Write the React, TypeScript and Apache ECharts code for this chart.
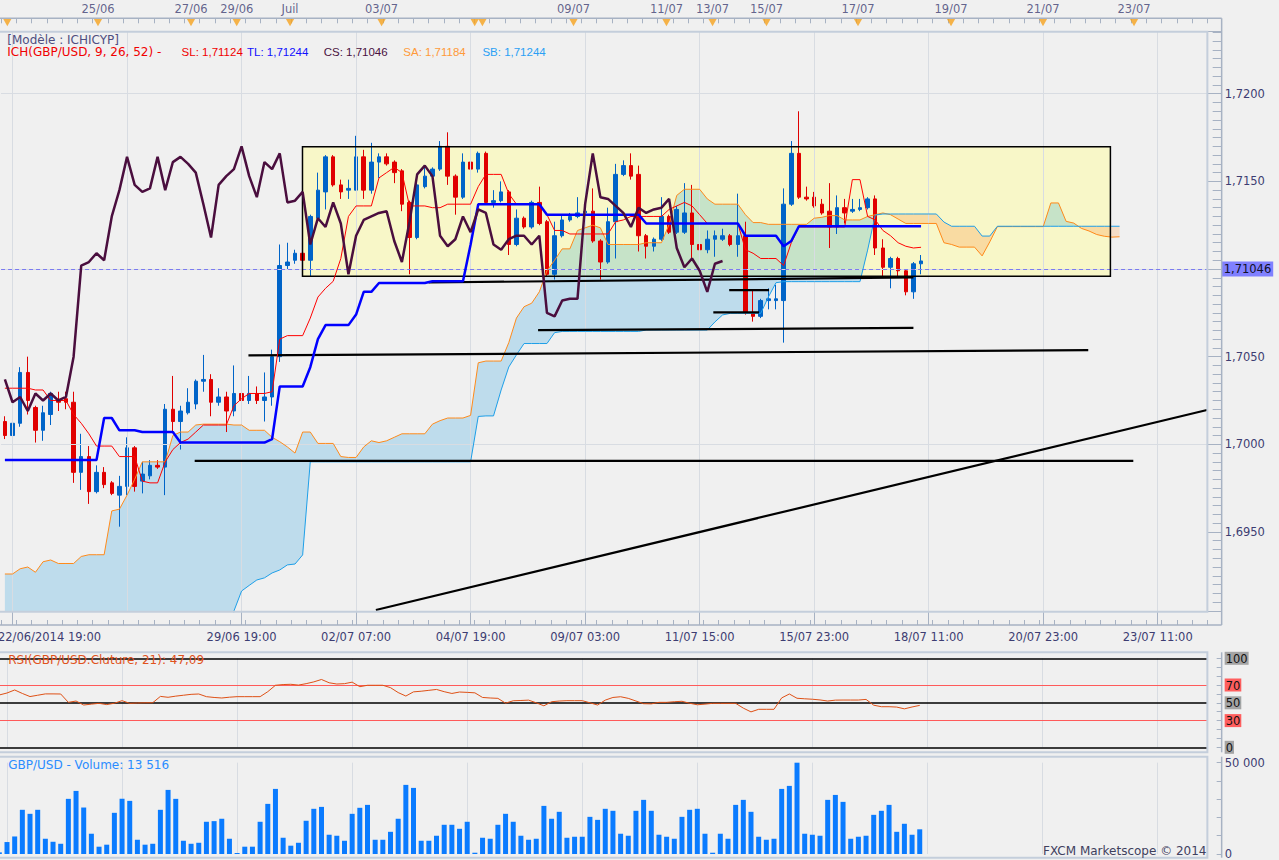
import React, { useEffect, useRef } from 'react';
import * as echarts from 'echarts';

// ---------- data ----------
const SLOTS = 158; // candle slots across the price pane (index 0 = partially hidden first candle)

const timeTicks = [1, 16, 31, 46, 61, 76, 91, 106, 121, 136, 151];
const timeLabels = ['22/06/2014 19:00', '', '29/06 19:00', '02/07 07:00', '04/07 19:00', '09/07 03:00', '11/07 15:00', '15/07 23:00', '18/07 11:00', '20/07 23:00', '23/07 11:00'];
const priceLevels = [1.695, 1.7, 1.705, 1.71, 1.715, 1.72];

const eventMarks = [1.04, 12.86, 24.99, 30.95, 37.9, 49.84, 61.98, 62.98, 74.86, 86.98, 92.99, 100.02, 111.95, 124.08, 136.07, 147.94];
const eventLabels = ['', '25/06', '27/06', '29/06', 'Juil', '03/07', '', '', '09/07', '11/07', '13/07', '15/07', '17/07', '19/07', '21/07', '23/07'];

// [open, close, low, high]
const candles = [
  [1.7013, 1.7005, 1.7003, 1.7016], [1.7005, 1.7012, 1.7004, 1.7022], [1.7012, 1.7041, 1.7010, 1.7044], [1.7041, 1.7025, 1.7017, 1.7050],
  [1.7021, 1.7008, 1.7001, 1.7022], [1.7008, 1.7018, 1.7002, 1.7022], [1.7017, 1.7029, 1.7011, 1.7030], [1.7025, 1.7024, 1.7019, 1.7030],
  [1.7026, 1.7024, 1.7020, 1.7030], [1.7024, 1.6984, 1.6978, 1.7030], [1.6984, 1.6993, 1.6974, 1.7006], [1.6993, 1.6973, 1.6966, 1.6999],
  [1.6973, 1.6984, 1.6972, 1.6988], [1.6984, 1.6977, 1.6975, 1.6987], [1.6978, 1.6972, 1.6971, 1.6979], [1.6971, 1.6976, 1.6953, 1.6982],
  [1.6976, 1.6998, 1.6971, 1.7004], [1.6998, 1.6976, 1.6973, 1.6999], [1.6979, 1.6983, 1.6972, 1.6990], [1.6982, 1.6988, 1.6980, 1.6991],
  [1.6988, 1.6987, 1.6986, 1.6991], [1.6987, 1.7020, 1.6971, 1.7023], [1.7020, 1.7013, 1.7007, 1.7039], [1.7013, 1.7019, 1.6997, 1.7022],
  [1.7018, 1.7024, 1.7017, 1.7032], [1.7023, 1.7036, 1.7020, 1.7037], [1.7036, 1.7037, 1.7030, 1.7051], [1.7037, 1.7024, 1.7016, 1.7040],
  [1.7024, 1.7027, 1.7022, 1.7032], [1.7027, 1.7019, 1.7007, 1.7030], [1.7019, 1.7029, 1.7016, 1.7045], [1.7029, 1.7025, 1.7024, 1.7030],
  [1.7025, 1.7029, 1.7023, 1.7039], [1.7029, 1.7025, 1.7023, 1.7033], [1.7025, 1.7027, 1.7013, 1.7041], [1.7027, 1.7050, 1.7022, 1.7054],
  [1.7050, 1.7102, 1.7047, 1.7114], [1.7102, 1.7104, 1.7100, 1.7115], [1.7105, 1.7109, 1.7103, 1.7111], [1.7109, 1.7105, 1.7104, 1.7111],
  [1.7105, 1.7130, 1.7096, 1.7131], [1.7129, 1.7145, 1.7128, 1.7155], [1.7144, 1.7164, 1.7134, 1.7165], [1.7164, 1.7148, 1.7147, 1.7165],
  [1.7148, 1.7144, 1.7140, 1.7151], [1.7145, 1.7146, 1.7140, 1.7151], [1.7145, 1.7164, 1.7145, 1.7176], [1.7164, 1.7145, 1.7140, 1.7168],
  [1.7145, 1.7161, 1.7143, 1.7172], [1.7161, 1.7164, 1.7152, 1.7166], [1.7164, 1.7160, 1.7159, 1.7166], [1.7161, 1.7155, 1.7149, 1.7162],
  [1.7156, 1.7137, 1.7133, 1.7157], [1.7138, 1.7118, 1.7097, 1.7139], [1.7118, 1.7148, 1.7117, 1.7154], [1.7147, 1.7153, 1.7146, 1.7158],
  [1.7153, 1.7157, 1.7152, 1.7158], [1.7157, 1.7170, 1.7156, 1.7173], [1.7170, 1.7153, 1.7148, 1.7178], [1.7153, 1.7141, 1.7131, 1.7154],
  [1.7141, 1.7161, 1.7140, 1.7166], [1.7161, 1.7157, 1.7155, 1.7166], [1.7157, 1.7166, 1.7155, 1.7167], [1.7166, 1.7138, 1.7137, 1.7167],
  [1.7138, 1.7139, 1.7135, 1.7145], [1.7139, 1.7144, 1.7138, 1.7150], [1.7144, 1.7114, 1.7108, 1.7145], [1.7114, 1.7129, 1.7113, 1.7134],
  [1.7129, 1.7124, 1.7123, 1.7130], [1.7124, 1.7138, 1.7123, 1.7139], [1.7138, 1.7126, 1.7125, 1.7147], [1.7127, 1.7097, 1.7096, 1.7128],
  [1.7097, 1.7119, 1.7094, 1.7127], [1.7119, 1.7128, 1.7118, 1.7131], [1.7128, 1.7130, 1.7127, 1.7132], [1.7130, 1.7132, 1.7129, 1.7141],
  [1.7132, 1.7133, 1.7131, 1.7134], [1.7133, 1.7116, 1.7115, 1.7146], [1.7116, 1.7104, 1.7094, 1.7117], [1.7104, 1.7127, 1.7103, 1.7135],
  [1.7127, 1.7154, 1.7106, 1.7160], [1.7154, 1.7159, 1.7153, 1.7162], [1.7159, 1.7153, 1.7151, 1.7166], [1.7154, 1.7119, 1.7110, 1.7159],
  [1.7119, 1.7113, 1.7106, 1.7120], [1.7113, 1.7117, 1.7110, 1.7118], [1.7117, 1.7130, 1.7116, 1.7141], [1.7130, 1.7121, 1.7120, 1.7131],
  [1.7121, 1.7134, 1.7120, 1.7136], [1.7121, 1.7132, 1.7120, 1.7149], [1.7132, 1.7114, 1.7106, 1.7148], [1.7114, 1.7111, 1.7104, 1.7120],
  [1.7111, 1.7117, 1.7109, 1.7122], [1.7117, 1.7119, 1.7107, 1.7122], [1.7117, 1.7119, 1.7116, 1.7123], [1.7119, 1.7114, 1.7113, 1.7120],
  [1.7114, 1.7119, 1.7107, 1.7143], [1.7119, 1.7075, 1.7074, 1.7127], [1.7075, 1.7073, 1.7070, 1.7088], [1.7073, 1.7082, 1.7072, 1.7083],
  [1.7082, 1.7083, 1.7077, 1.7089], [1.7082, 1.7083, 1.7077, 1.7091], [1.7082, 1.7137, 1.7058, 1.7146], [1.7137, 1.7166, 1.7136, 1.7173],
  [1.7166, 1.7141, 1.7140, 1.7190], [1.7141, 1.7140, 1.7139, 1.7147], [1.7141, 1.7136, 1.7135, 1.7144], [1.7137, 1.7132, 1.7131, 1.7140],
  [1.7133, 1.7124, 1.7112, 1.7149], [1.7124, 1.7135, 1.7120, 1.7142], [1.7135, 1.7132, 1.7126, 1.7140], [1.7133, 1.7134, 1.7132, 1.7140],
  [1.7134, 1.7135, 1.7133, 1.7140], [1.7135, 1.7140, 1.7134, 1.7141], [1.7140, 1.7112, 1.7108, 1.7142], [1.7112, 1.7101, 1.7096, 1.7117],
  [1.7101, 1.7106, 1.7089, 1.7107], [1.7106, 1.7099, 1.7096, 1.7107], [1.7099, 1.7087, 1.7085, 1.7100], [1.7087, 1.7103, 1.7083, 1.7104],
  [1.7103, 1.71046, 1.7097, 1.7108],
];

const tenkan = [
  1.7032, 1.7032, 1.7032, 1.7032, 1.7031, 1.7031, 1.7025, 1.7025, 1.7025, 1.7017,
  1.7012, 1.7006, 1.6999, 1.6999, 1.6999, 1.6993, 1.6993, 1.6993, 1.6979, 1.6978,
  1.6978, 1.6990, 1.6997, 1.7001, 1.7003, 1.7007, 1.7011, 1.7011, 1.7011, 1.7011,
  1.7022, 1.7026, 1.7029, 1.7029, 1.7029, 1.7030, 1.7060, 1.7062, 1.7062, 1.7062,
  1.7072, 1.7084, 1.7089, 1.7093, 1.7106, 1.7130, 1.7136, 1.7136, 1.7136, 1.7152,
  1.7155, 1.7158, 1.7155, 1.7136, 1.7136, 1.7136, 1.7135, 1.7135, 1.7137, 1.7137,
  1.7137, 1.7137, 1.7147, 1.7154, 1.7154, 1.7154, 1.7143, 1.7137, 1.7137, 1.7137,
  1.7137, 1.7131, 1.7122, 1.7122, 1.7120, 1.7120, 1.7120, 1.7120, 1.7120, 1.7120,
  1.7127, 1.7128, 1.7130, 1.7130, 1.7130, 1.7130, 1.7130, 1.7134, 1.7136, 1.7138,
  1.7136, 1.7131, 1.7126, 1.7126, 1.7126, 1.7126, 1.7126, 1.7111, 1.7109, 1.7106,
  1.7106, 1.7106, 1.7102, 1.7115, 1.7124, 1.7124, 1.7124, 1.7124, 1.7124, 1.7124,
  1.7124, 1.7151, 1.7151, 1.7130, 1.7128, 1.7122, 1.7119, 1.7115, 1.7113, 1.7112,
  1.71124,
];

const kijun = [
  1.6991, 1.6991, 1.6991, 1.6991, 1.6991, 1.6991, 1.6991, 1.6991, 1.6991, 1.6991,
  1.6991, 1.6991, 1.6991, 1.7015, 1.7015, 1.7008, 1.7008, 1.7008, 1.7007, 1.7007,
  1.7007, 1.7007, 1.7007, 1.7001, 1.7001, 1.7001, 1.7001, 1.7001, 1.7001, 1.7001,
  1.7001, 1.7001, 1.7001, 1.7001, 1.7001, 1.7003, 1.7033, 1.7033, 1.7033, 1.7033,
  1.7044, 1.7060, 1.7068, 1.7068, 1.7068, 1.7068, 1.7074, 1.7087, 1.7087, 1.7092,
  1.7092, 1.7092, 1.7092, 1.7092, 1.7092, 1.7092, 1.7093, 1.7093, 1.7093, 1.7093,
  1.7093, 1.7114, 1.7137, 1.7137, 1.7137, 1.7137, 1.7137, 1.7137, 1.7137, 1.7137,
  1.7137, 1.7131, 1.7131, 1.7131, 1.7131, 1.7131, 1.7131, 1.7131, 1.7131, 1.7131,
  1.7131, 1.7131, 1.7131, 1.7131, 1.7126, 1.7126, 1.7126, 1.7126, 1.7126, 1.7126,
  1.7126, 1.7126, 1.7126, 1.7126, 1.7126, 1.7126, 1.7126, 1.7119, 1.7119, 1.7119,
  1.7119, 1.7119, 1.7113, 1.7116, 1.71244, 1.71244, 1.71244, 1.71244, 1.71244, 1.71244,
  1.71244, 1.71244, 1.71244, 1.71244, 1.71244, 1.71244, 1.71244, 1.71244, 1.71244, 1.71244,
  1.71244,
];

const senkouA = [
  1.6926, 1.6926, 1.6929, 1.6930, 1.6927, 1.6933, 1.6934, 1.6932, 1.6932, 1.6932,
  1.6936, 1.6937, 1.6937, 1.6937, 1.6962, 1.6963, 1.6971, 1.6980, 1.6990, 1.6990,
  1.6990, 1.6990, 1.7005, 1.7007, 1.7007, 1.7011, 1.70115, 1.70115, 1.70115, 1.70115,
  1.7011, 1.7011, 1.7008, 1.7008, 1.7008, 1.7004, 1.70015, 1.69985, 1.6995, 1.7007,
  1.7007, 1.70005, 1.70005, 1.70005, 1.6993, 1.69925, 1.69925, 1.69985, 1.7002, 1.7001,
  1.7002, 1.7004, 1.7006, 1.7006, 1.7006, 1.7006, 1.70115, 1.70135, 1.7015, 1.7015,
  1.7015, 1.70165, 1.70465, 1.70475, 1.70475, 1.70475, 1.7058, 1.7072, 1.70785, 1.70805,
  1.7087, 1.7099, 1.7105, 1.71115, 1.71115, 1.7122, 1.71235, 1.7125, 1.71235, 1.7114,
  1.7114, 1.7114, 1.7114, 1.7114, 1.7115, 1.7115, 1.7115, 1.71255, 1.7142, 1.71455,
  1.71455, 1.71455, 1.7140, 1.7137, 1.7137, 1.7137, 1.7137, 1.7131, 1.71265, 1.71265,
  1.71255, 1.71255, 1.71255, 1.71255, 1.71255, 1.71255, 1.7129, 1.71295, 1.71305, 1.71305,
  1.7128, 1.7128, 1.7128, 1.7130, 1.7131, 1.7132, 1.7131, 1.71285, 1.7126, 1.7126,
  1.7126, 1.7126, 1.7126, 1.7115, 1.7114, 1.71125, 1.71125, 1.71125, 1.71075, 1.71155,
  1.71242, 1.71242, 1.71242, 1.71242, 1.71242, 1.71242, 1.71242, 1.71377, 1.71377, 1.71272,
  1.71262, 1.71232, 1.71217, 1.71197, 1.71187, 1.71182, 1.71184,
];

const senkouB = [
  1.6880, 1.6880, 1.6880, 1.6880, 1.6880, 1.6880, 1.6880, 1.6880, 1.6880, 1.6880,
  1.6880, 1.6880, 1.6880, 1.6880, 1.6880, 1.6880, 1.6880, 1.6880, 1.6880, 1.6880,
  1.6880, 1.6880, 1.6880, 1.6880, 1.6880, 1.6880, 1.6880, 1.6880, 1.6880, 1.6880,
  1.69049, 1.69163, 1.69195, 1.69226, 1.69238, 1.69266, 1.69283, 1.69312, 1.69317, 1.69369,
  1.6990, 1.6990, 1.6990, 1.6990, 1.6990, 1.6990, 1.6990, 1.6990, 1.6990, 1.6990,
  1.6990, 1.6990, 1.6990, 1.6990, 1.6990, 1.6990, 1.6990, 1.6990, 1.6990, 1.6990,
  1.6990, 1.6990, 1.70159, 1.70162, 1.70162, 1.70310, 1.70441, 1.70510, 1.70575, 1.70575,
  1.70575, 1.70575, 1.70637, 1.70644, 1.70644, 1.70644, 1.70644, 1.70644, 1.70644, 1.70644,
  1.70644, 1.70644, 1.70644, 1.70644, 1.70652, 1.70652, 1.70652, 1.70652, 1.70652, 1.70652,
  1.70652, 1.70652, 1.70652, 1.70698, 1.70738, 1.70747, 1.70747, 1.70747, 1.70747, 1.70747,
  1.70840, 1.70922, 1.70928, 1.70928, 1.70928, 1.70928, 1.70928, 1.70928, 1.70928, 1.70928,
  1.70928, 1.70928, 1.70928, 1.71108, 1.71308, 1.71314, 1.71314, 1.71314, 1.71314, 1.71314,
  1.71314, 1.71314, 1.71314, 1.71268, 1.71244, 1.71244, 1.71244, 1.71244, 1.71188, 1.71188,
  1.71244, 1.71244, 1.71244, 1.71244, 1.71244, 1.71244, 1.71244, 1.71244, 1.71244, 1.71244,
  1.71244, 1.71244, 1.71244, 1.71244, 1.71244, 1.71244, 1.71244,
];

const rsi = [
  58.8, 61, 64.4, 60.5, 57, 58.5, 60, 60, 59.9, 50.5,
  52, 47.5, 48.5, 49.4, 48, 49.5, 52.4, 49.4, 49.8, 50,
  50.1, 57.2, 56.2, 57.5, 58.5, 59.5, 59.9, 56.9, 56, 55.4,
  56.3, 56.9, 56.9, 56.9, 56.9, 62.5, 69.7, 70.5, 70.8, 69.9,
  71.5, 73.5, 76.2, 72.5, 71.1, 71.5, 73.2, 68.1, 69.7, 69.7,
  69.7, 67, 61.5, 57.6, 62.3, 63, 64, 65, 62.5, 60.5,
  62.1, 61.7, 61.2, 56, 55.4, 55, 49.6, 52.3, 52.6, 53,
  50, 46.6, 51.2, 52, 52.4, 52.4, 52.4, 50, 47.5, 53,
  56, 56.8, 55, 52, 49, 48.8, 50.5, 50.5, 51.2, 51.7,
  49.5, 47.8, 48.5, 49.4, 49.4, 49.4, 49.4, 44, 39.8, 42.7,
  42.7, 42.7, 55.5, 59.9, 55.1, 54.5, 54, 53.2, 52, 53,
  53.1, 53.1, 53.1, 53.8, 47.3, 45.6, 45.6, 45.2, 43.2, 45.3,
  47.09,
];
const rsiLevels = [100, 70, 50, 30, 0];
const rsiLevelColors = ['#000000', '#ff5a5a', '#000000', '#ff5a5a', '#000000'];

const volume = [
  900, 6550, 9600, 24200, 22000, 24200, 8350, 6700, 5600, 30200,
  34550, 25450, 11100, 4000, 5100, 22550, 30200, 29100, 7800, 5100,
  5600, 24200, 35100, 30200, 7250, 5600, 6150, 17650, 18000, 19300,
  8350, 550, 4000, 4000, 17650, 27450, 35650, 8900, 4550, 6150,
  18200, 24750, 25800, 10550, 10000, 7250, 22000, 25300, 26900, 7800,
  7800, 12150, 19300, 37850, 36200, 7250, 7250, 10000, 16000, 16000,
  13800, 17650, 700, 8900, 8350, 16000, 22000, 17650, 10000, 7800,
  8350, 26350, 19300, 23100, 8900, 9450, 9450, 20350, 18700, 24750,
  23650, 11100, 10000, 23650, 29650, 23650, 10550, 9450, 8350, 20350,
  24200, 24750, 11100, 700, 11100, 8350, 26900, 29650, 23100, 9450,
  7800, 8350, 35650, 37300, 50000, 11100, 10550, 10000, 29650, 32350,
  28550, 8350, 9450, 10000, 21450, 23650, 26900, 12150, 16550, 10550,
  13516,
];

// [slot from, price from, slot to, price to]
const rangeBox = [38.98, 1.70959, 144.8, 1.71697];
const trendLines = [
  [55.5, 1.70923, 119.0, 1.70952],
  [69.84, 1.70652, 119.0, 1.70664],
  [31.9, 1.70507, 141.9, 1.70537],
  [24.86, 1.69905, 147.8, 1.69905],
  [94.87, 1.70880, 100.09, 1.70880],
  [92.79, 1.70753, 98.78, 1.70753],
  [48.59, 1.69055, 157.45, 1.70196],
];

// ---------- helpers ----------
const fmt = (v: number, d: number) => v.toFixed(d).replace('.', ',');
const fmtThousands = (v: number) => String(v).replace(/\B(?=(\d{3})+(?!\d))/g, ' ');

const FONT = 'DejaVu Sans';
const AXIS_COLOR = '#a7b2c3';
const LABEL_COLOR = '#3d3d72';
const PANE_BORDER = '#c4cedb';
const GRID_LINE = '#d8dce2';
const SLOT_W = 7.67;
const OX = 5;            // chart container starts 5px left of the page
const CW = 1279 + OX;    // container width
const LEFT = 0.5;        // grid left inside the container (page x = -4.5)
const RIGHT = CW - (LEFT + SLOTS * SLOT_W);
const PLOT_R = CW - RIGHT;       // right edge of plots (container coords)
const AXIS_X = PLOT_R + 14.3;    // right axis line (container coords)

// cloud colours: outside / inside the highlighted range box
const CLOUD_UP = '#bedcec';
const CLOUD_DN = '#f5dcc6';
const CLOUD_UP_IN = '#c6e3c8';
const CLOUD_DN_IN = '#f9dba2';
const BOX_FILL = '#f8f7c8';

// Sutherland-Hodgman clip of a polygon against an axis-aligned rectangle
function clipToRect(points: number[][], x0: number, y0: number, x1: number, y1: number) {
  let out = points;
  const step = (inside: (p: number[]) => boolean, cut: (a: number[], b: number[]) => number[]) => {
    const res: number[][] = [];
    for (let i = 0; i < out.length; i++) {
      const cur = out[i];
      const prev = out[(i + out.length - 1) % out.length];
      const ci = inside(cur);
      const pi = inside(prev);
      if (ci) {
        if (!pi) res.push(cut(prev, cur));
        res.push(cur);
      } else if (pi) res.push(cut(prev, cur));
    }
    out = res;
  };
  const cx = (x: number) => (a: number[], b: number[]) => [x, a[1] + ((x - a[0]) / (b[0] - a[0])) * (b[1] - a[1])];
  const cy = (y: number) => (a: number[], b: number[]) => [a[0] + ((y - a[1]) / (b[1] - a[1])) * (b[0] - a[0]), y];
  step((p) => p[0] >= x0, cx(x0));
  if (out.length) step((p) => p[0] <= x1, cx(x1));
  if (out.length) step((p) => p[1] >= y0, cy(y0));
  if (out.length) step((p) => p[1] <= y1, cy(y1));
  return out;
}

function buildOption() {
  const last = candles.length - 1;
  const lastClose = candles[last][1];
  const categories = Array.from({ length: SLOTS }, (_, i) => {
    const k = timeTicks.indexOf(i);
    return k >= 0 ? timeLabels[k] : '';
  });
  const chikou = candles.slice(26).map((c, i) => [i, c[1]]);
  const pairs = (arr: number[]) => arr.map((v, i) => [i, v]);

  const hiddenX = (gridIndex: number) => ({ type: 'value', gridIndex, min: -0.5, max: SLOTS - 0.5, show: false, axisLine: { onZero: false } });
  const grid = (top: number, height: number) => ({ left: LEFT, right: RIGHT, top, height });

  const gridLines = (xAxisIndex: number, yAxisIndex: number, levels: number[] = []) => ({
    type: 'line', xAxisIndex, yAxisIndex, data: [], z: 3, silent: true,
    markLine: {
      silent: true, symbol: 'none', animation: false, label: { show: false },
      lineStyle: { color: GRID_LINE, width: 1, type: 'solid' },
      data: [...timeTicks.map((t) => ({ xAxis: t })), ...levels.map((v) => ({ yAxis: v }))],
    },
  });

  const cloudRender = (params: any, api: any) => {
    const polys: { pts: number[][]; up: boolean }[] = [];
    let sign = 0;
    let up: number[][] = [];
    let lo: number[][] = [];
    const flush = () => {
      if (up.length > 1) polys.push({ pts: up.concat(lo.slice().reverse()), up: sign > 0 });
    };
    for (let i = 0; i < senkouA.length; i++) {
      const a = api.coord([i, senkouA[i]]);
      const b = api.coord([i, senkouB[i]]);
      const s = senkouA[i] >= senkouB[i] ? 1 : -1;
      if (i === 0) { sign = s; up = [a]; lo = [b]; continue; }
      if (s !== sign) {
        const d0 = senkouA[i - 1] - senkouB[i - 1];
        const d1 = senkouA[i] - senkouB[i];
        const t = d0 / (d0 - d1);
        const c = api.coord([i - 1 + t, senkouA[i - 1] + t * (senkouA[i] - senkouA[i - 1])]);
        up.push(c); lo.push(c);
        flush();
        sign = s; up = [c, a]; lo = [c, b];
      } else { up.push(a); lo.push(b); }
    }
    flush();
    const b0 = api.coord([rangeBox[0], rangeBox[3]]);
    const b1 = api.coord([rangeBox[2], rangeBox[1]]);
    const children: any[] = [];
    polys.forEach((p) => {
      children.push({ type: 'polygon', shape: { points: p.pts }, style: { fill: p.up ? CLOUD_UP : CLOUD_DN } });
    });
    polys.forEach((p) => {
      const inner = clipToRect(p.pts, b0[0], b0[1], b1[0], b1[1]);
      if (inner.length > 2) {
        children.push({ type: 'polygon', shape: { points: inner }, style: { fill: p.up ? CLOUD_UP_IN : CLOUD_DN_IN } });
      }
    });
    return { type: 'group', children };
  };

  const textEl = (text: string, left: number, top: number, fill: string, size = 12, family = FONT) => ({
    type: 'text', left: left + OX, top, z: 30, silent: true,
    style: { text, fill, fontSize: size, fontFamily: family },
  });
  const lineEl = (x1: number, y1: number, x2: number, y2: number, stroke = AXIS_COLOR, lw = 1.5) => ({
    type: 'line', z: 25, silent: true, shape: { x1, y1, x2, y2 }, style: { stroke, lineWidth: lw },
  });
  const paneEl = (y: number, h: number) => ({
    type: 'rect', z: 25, silent: true, shape: { x: OX - 1, y, width: PLOT_R - OX + 1, height: h },
    style: { fill: 'transparent', stroke: PANE_BORDER, lineWidth: 2 },
  });

  const rsiRich = {
    g: { backgroundColor: '#a4a4a4', color: '#111', padding: [1, 1, 0, 1], fontSize: 11.5, fontFamily: FONT },
    r: { backgroundColor: '#ff5e5e', color: '#111', padding: [1, 1, 0, 1], fontSize: 11.5, fontFamily: FONT },
  };

  return {
    animation: false,
    backgroundColor: '#f0f0f0',
    textStyle: { fontFamily: FONT },
    grid: [grid(31.7, 580), grid(0, 31.7), grid(658.3, 89), grid(762.7, 91.6)],
    xAxis: [
      {
        type: 'category', gridIndex: 0, data: categories, position: 'bottom', offset: 13.3,
        axisLine: { show: false, onZero: false },
        axisTick: { show: true, inside: true, length: 13.3, alignWithLabel: true, interval: (i: number, v: string) => v !== '', lineStyle: { color: AXIS_COLOR } },
        axisLabel: {
          show: true, interval: (i: number, v: string) => v !== '', margin: 6, color: LABEL_COLOR, fontSize: 11.5, fontFamily: FONT,
          formatter: (v: string, i: number) => (i === timeTicks[0] ? `{first|${v}}` : v),
          rich: { first: { padding: [0, 0, 0, 74], color: LABEL_COLOR, fontSize: 11.5, fontFamily: FONT } },
        },
        splitLine: { show: false },
      },
      {
        type: 'category', gridIndex: 0, data: categories, position: 'bottom', offset: 13.3,
        axisLine: { show: false, onZero: false }, axisLabel: { show: false }, splitLine: { show: false },
        axisTick: { show: true, inside: true, length: 5, interval: 1, lineStyle: { color: AXIS_COLOR } },
      },
      {
        type: 'category', gridIndex: 0, data: categories, position: 'top', offset: 13.4,
        axisLine: { show: false, onZero: false }, axisLabel: { show: false }, splitLine: { show: false },
        axisTick: { show: true, inside: true, length: 5, interval: 1, lineStyle: { color: AXIS_COLOR } },
      },
      hiddenX(0),
      hiddenX(1),
      hiddenX(2),
      { type: 'category', gridIndex: 3, data: categories, show: false, axisLine: { onZero: false } },
      hiddenX(3),
    ],
    yAxis: [
      {
        type: 'value', gridIndex: 0, position: 'right', offset: 14.3, min: 1.69045, max: 1.72354, splitNumber: 6,
        axisLine: { show: false, onZero: false },
        axisTick: { show: true, inside: true, length: 14.3, lineStyle: { color: AXIS_COLOR } },
        minorTick: { show: true, splitNumber: 10, length: 9, lineStyle: { color: AXIS_COLOR } },
        axisLabel: { margin: 3, color: LABEL_COLOR, fontSize: 11.5, fontFamily: FONT, showMinLabel: false, showMaxLabel: false, formatter: (v: number) => fmt(v, 4) },
        splitLine: { show: false },
      },
      { type: 'value', gridIndex: 1, min: 0, max: 1, show: false, axisLine: { onZero: false } },
      {
        type: 'value', gridIndex: 2, position: 'right', offset: 14.3, min: 0, max: 100, interval: 10,
        axisLine: { show: false, onZero: false },
        axisTick: { show: true, inside: true, length: 5, lineStyle: { color: AXIS_COLOR } },
        axisLabel: {
          margin: 3, rich: rsiRich,
          formatter: (v: number) => {
            const k = rsiLevels.indexOf(v);
            if (k < 0) return '';
            return rsiLevelColors[k] === '#000000' ? `{g|${v}}` : `{r|${v}}`;
          },
        },
        splitLine: { show: false },
      },
      {
        type: 'value', gridIndex: 3, position: 'right', offset: 14.3, min: 0, max: 50000, interval: 10000,
        axisLine: { show: false, onZero: false },
        axisTick: { show: true, inside: true, length: 5, lineStyle: { color: AXIS_COLOR } },
        axisLabel: { margin: 3, color: LABEL_COLOR, fontSize: 11.5, fontFamily: FONT, formatter: (v: number) => (v === 50000 || v === 0 ? fmtThousands(v) : '') },
        splitLine: { show: false },
      },
    ],
    series: [
      {
        type: 'custom', xAxisIndex: 3, yAxisIndex: 0, z: 1, silent: true, clip: true,
        data: [rangeBox], encode: { x: [0, 2], y: [1, 3] },
        renderItem: (params: any, api: any) => {
          const p0 = api.coord([api.value(0), api.value(3)]);
          const p1 = api.coord([api.value(2), api.value(1)]);
          return { type: 'rect', shape: { x: p0[0], y: p0[1], width: p1[0] - p0[0], height: p1[1] - p0[1] }, style: { fill: BOX_FILL } };
        },
      },
      {
        type: 'custom', xAxisIndex: 3, yAxisIndex: 0, z: 2, silent: true, clip: true,
        data: [[0, senkouA[0]]], renderItem: cloudRender,
      },
      gridLines(3, 0, priceLevels),
      {
        type: 'candlestick', xAxisIndex: 0, yAxisIndex: 0, data: candles, barWidth: 4, z: 4, silent: true,
        itemStyle: { color: '#0064c8', color0: '#e00000', borderColor: '#0064c8', borderColor0: '#e00000', borderWidth: 1 },
      },
      { type: 'line', xAxisIndex: 3, yAxisIndex: 0, data: pairs(senkouA), showSymbol: false, z: 5, silent: true, lineStyle: { color: '#ff8a1a', width: 1 } },
      { type: 'line', xAxisIndex: 3, yAxisIndex: 0, data: pairs(senkouB), showSymbol: false, z: 5, silent: true, lineStyle: { color: '#1e9fe8', width: 1 } },
      {
        type: 'custom', xAxisIndex: 3, yAxisIndex: 0, z: 6, silent: true, clip: true,
        data: [rangeBox], encode: { x: [0, 2], y: [1, 3] },
        renderItem: (params: any, api: any) => {
          const p0 = api.coord([api.value(0), api.value(3)]);
          const p1 = api.coord([api.value(2), api.value(1)]);
          return { type: 'rect', shape: { x: p0[0], y: p0[1], width: p1[0] - p0[0], height: p1[1] - p0[1] }, style: { fill: 'transparent', stroke: '#000', lineWidth: 1.5 } };
        },
      },
      {
        type: 'custom', xAxisIndex: 3, yAxisIndex: 0, z: 6, silent: true, clip: true,
        data: trendLines, encode: { x: [0, 2], y: [1, 3] },
        renderItem: (params: any, api: any) => {
          const a = api.coord([api.value(0), api.value(1)]);
          const b = api.coord([api.value(2), api.value(3)]);
          return { type: 'line', shape: { x1: a[0], y1: a[1], x2: b[0], y2: b[1] }, style: { stroke: '#000', lineWidth: 2.2 } };
        },
      },
      { type: 'line', xAxisIndex: 3, yAxisIndex: 0, data: pairs(tenkan), showSymbol: false, z: 7, silent: true, lineStyle: { color: '#ff0000', width: 1 } },
      { type: 'line', xAxisIndex: 3, yAxisIndex: 0, data: pairs(kijun), showSymbol: false, z: 7, silent: true, lineStyle: { color: '#0000ff', width: 2.5 } },
      { type: 'line', xAxisIndex: 3, yAxisIndex: 0, data: chikou, showSymbol: false, z: 7, silent: true, lineStyle: { color: '#4a0e3e', width: 2.5 } },
      {
        type: 'line', xAxisIndex: 3, yAxisIndex: 0, data: [], z: 8, silent: true,
        markLine: {
          silent: true, symbol: 'none', animation: false,
          lineStyle: { color: '#7b7bf0', width: 1, type: [4, 3] },
          label: {
            show: true, position: 'end', distance: 14.3, formatter: fmt(lastClose, 5),
            backgroundColor: '#8080ff', color: '#101028', padding: [2, 2, 1, 2], fontSize: 11.5, fontFamily: FONT,
          },
          data: [{ yAxis: lastClose }],
        },
      },
      {
        type: 'scatter', xAxisIndex: 4, yAxisIndex: 1, z: 5, silent: true,
        data: eventMarks.map((p) => [p, 0.3]),
        symbol: 'triangle', symbolRotate: 180, symbolSize: [9, 8],
        itemStyle: { color: '#f6a21e' },
        label: { show: true, position: 'top', distance: 3, color: LABEL_COLOR, fontSize: 11.5, fontFamily: FONT, formatter: (p: any) => eventLabels[p.dataIndex] },
      },
      gridLines(5, 2),
      {
        type: 'line', xAxisIndex: 5, yAxisIndex: 2, data: pairs(rsi), showSymbol: false, z: 5, silent: true,
        lineStyle: { color: '#de5015', width: 1 },
        markLine: {
          silent: true, symbol: 'none', animation: false, label: { show: false },
          data: rsiLevels.map((v, k) => ({ yAxis: v, lineStyle: { color: rsiLevelColors[k], width: rsiLevelColors[k] === '#000000' ? 1.5 : 1, type: 'solid' } })),
        },
      },
      gridLines(7, 3),
      {
        type: 'bar', xAxisIndex: 6, yAxisIndex: 3, data: volume, barWidth: 5, z: 5, silent: true,
        itemStyle: { color: '#0a7bff' },
      },
    ],
    graphic: [
      lineEl(OX, 18.3, AXIS_X, 18.3),
      lineEl(AXIS_X, 18.3, AXIS_X, 625),
      lineEl(OX, 625, AXIS_X, 625),
      lineEl(AXIS_X, 652.3, AXIS_X, 752.3),
      lineEl(AXIS_X, 756.7, AXIS_X, 857.7),
      paneEl(31.7, 580),
      paneEl(652.3, 100),
      paneEl(756.7, 101),
      textEl('[Modèle : ICHICYP]', 7.3, 33.5, '#4e4e80'),
      textEl('ICH(GBP/USD, 9, 26, 52) -', 7.3, 45.5, '#f00000'),
      textEl(`SL: ${fmt(tenkan[last], 5)}`, 181.6, 45.5, '#f00000', 11.5, 'Liberation Sans'),
      textEl(`TL: ${fmt(kijun[last], 5)}`, 247, 45.5, '#1010ff', 11.5, 'Liberation Sans'),
      textEl(`CS: ${fmt(lastClose, 5)}`, 323.7, 45.5, '#4a1040', 11.5, 'Liberation Sans'),
      textEl(`SA: ${fmt(senkouA[senkouA.length - 1], 5)}`, 403.3, 45.5, '#ff9a3a', 11.5, 'Liberation Sans'),
      textEl(`SB: ${fmt(senkouB[senkouB.length - 1], 5)}`, 482.4, 45.5, '#2aa0f5', 11.5, 'Liberation Sans'),
      textEl(`RSI(GBP/USD.Cluture, 21): ${fmt(rsi[last], 2)}`, 8.2, 654.3, '#e0531c'),
      textEl(`GBP/USD - Volume: ${fmtThousands(volume[last])}`, 8.2, 758.5, '#2a8cff'),
      { type: 'text', right: 1279 - 1206.5, top: 845, z: 30, silent: true, style: { text: 'FXCM Marketscope © 2014', fill: '#40405e', fontSize: 12, fontFamily: FONT } },
    ],
  };
}

export default function App() {
  const ref = useRef<HTMLDivElement>(null);
  useEffect(() => {
    const chart = echarts.init(ref.current as HTMLDivElement, null, { renderer: 'svg' });
    chart.setOption(buildOption() as any);
    return () => chart.dispose();
  }, []);
  return (
    <div
      ref={ref}
      style={{ position: 'fixed', left: -OX, top: 0, width: CW, height: 860, background: '#f0f0f0' }}
    />
  );
}
